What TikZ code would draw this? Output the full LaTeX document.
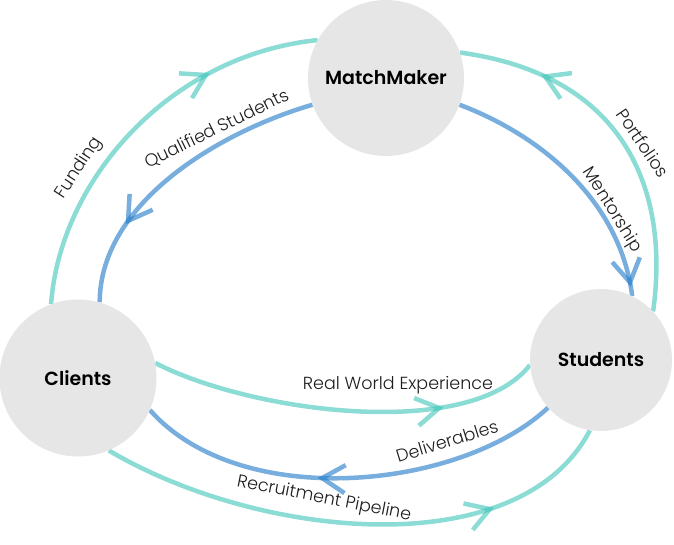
\documentclass[tikz,border=0pt]{standalone}
\usepackage{fontspec}
\setmainfont{Poppins}[UprightFont=* Light, BoldFont=* SemiBold]
\usetikzlibrary{arrows.meta,decorations.markings,backgrounds}

\definecolor{flowteal}{RGB}{60,196,184}
\definecolor{flowblue}{RGB}{30,120,200}
\definecolor{bubble}{RGB}{230,230,230}
\definecolor{ink}{RGB}{30,30,30}

\tikzset{
  party/.style={circle, fill=bubble, minimum size=#1, inner sep=0pt,
    font=\bfseries\fontsize{19}{23}\selectfont, text=black},
  flow/.style={line width=4.5pt, draw opacity=0.6},
  midarrow/.style={postaction={decorate}, decoration={markings,
    mark=at position #1 with {\arrow{Straight Barb[length=23pt,width=28pt]}}}},
  lbl/.style={font=\fontsize{17.5}{20}\selectfont, text=ink, inner sep=0pt}
}

\begin{document}
\begin{tikzpicture}[x=1pt, y=-1pt]
  \useasboundingbox (0,0) rectangle (674,544);

  % the three parties
  \node[party=156pt] (mm) at (386,78) {MatchMaker};
  \node[party=157pt] (cl) at (78,378) {Clients};
  \node[party=142pt] (st) at (601,360) {Students};

  % flows between the parties, kept behind the circles
  \begin{scope}[on background layer]
    \draw[flow, flowteal, midarrow=0.72] (cl.110) .. controls (60,180) and (170,55) .. (mm.151);
    \draw[flow, flowblue, midarrow=0.73] (mm.200) .. controls (225,130) and (100,200) .. (cl.74);
    \draw[flow, flowblue, midarrow=0.965] (mm.-20) .. controls (540,135) and (620,200) .. (st.64);
    \draw[flow, flowteal, midarrow=0.77] (st.43) .. controls (670,190) and (625,75) .. (mm.19);
    \draw[flow, flowteal, midarrow=0.75] (cl.11) .. controls (250,412) and (470,442) .. (st.184);
    \draw[flow, flowblue, midarrow=0.57] (st.222) .. controls (460,490) and (240,512) .. (cl.-24);
    \draw[flow, flowteal, midarrow=0.76] (cl.-67) .. controls (260,540) and (520,565) .. (st.261);
  \end{scope}

  % flow labels
  \node[lbl, rotate=57]  (lfund) at (79,168)  {Funding};
  \node[lbl, rotate=26]  (lqual) at (217,129) {Qualified Students};
  \node[lbl, rotate=-58] (lment) at (612,210) {Mentorship};
  \node[lbl, rotate=-56] (lport) at (643,143) {Portfolios};
  \node[lbl, rotate=0]   (lreal) at (398,385) {Real World Experience};
  \node[lbl, rotate=17]  (ldel)  at (447,441) {Deliverables};
  \node[lbl, rotate=-11] (lrec)  at (324,499) {Recruitment Pipeline};
\end{tikzpicture}
\end{document}
